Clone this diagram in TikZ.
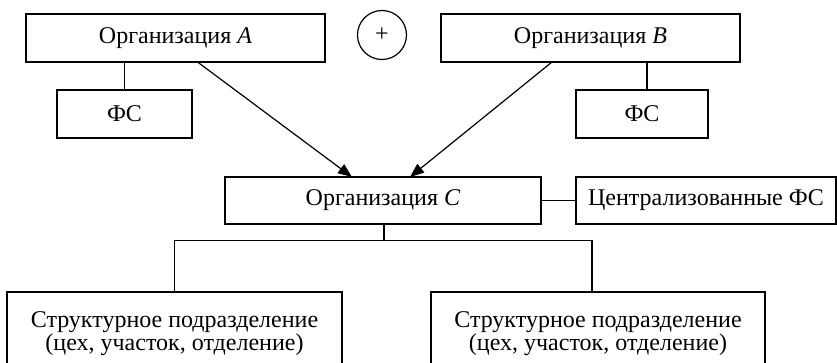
\documentclass[tikz,border=0pt]{standalone}
\usepackage{fontspec}
\setmainfont{Liberation Serif}
\usetikzlibrary{arrows.meta,positioning}

\begin{document}
\begin{tikzpicture}[x=0.5pt, y=-0.5pt,
       font=\fontsize{12}{11.5}\selectfont,
       line width=0.6pt,
    X/.style = {rectangle, draw,% styles of boxes
                minimum height=24pt, inner sep=2pt,
                outer sep=0pt, align=center},
    Y/.style = {circle, draw, minimum size=24.5pt,
                inner sep=0pt, outer sep=0pt},
    Z/.style = {-{Triangle[length=7pt,width=5.5pt]}},
                        ]
\useasboundingbox (0,0) rectangle (837,363);
% top row
\node[X, minimum width=149.5pt] (orgA) at (175.5,38) {Организация \textit{A}};
\node[Y] (plus) at (382,35) {+};
\node[X, minimum width=149.5pt] (orgB) at (590.5,38) {Организация \textit{B}};
\node[X, minimum width=67.5pt] (fsA) at (124.5,114) {ФС};
\node[X, minimum width=66pt] (fsB) at (642,114) {ФС};
% middle row
\node[X, minimum width=158pt, minimum height=23.5pt] (orgC) at (383,200.5) {Организация \textit{C}};
\node[X, minimum width=130pt, minimum height=23.5pt] (cfs) at (706,200.5) {Централизованные ФС};
% bottom row
\foreach \n/\x/\w in {subA/174.5/167.5pt, subB/598/167pt}% <-- divisions
    \node[X, anchor=north, minimum width=\w, minimum height=42pt] (\n) at (\x,292)
         {Структурное подразделение\\(цех, участок, отделение)};
% connectors
\draw (fsA.north) -- (fsA.north |- orgA.south);
\draw ([xshift=2.5pt]fsB.north) -- ([xshift=2.5pt]fsB.north |- orgB.south);
\draw[Z] ([xshift=11pt]orgA.south) -- ([xshift=-15.5pt]orgC.north);
\draw[Z] ([xshift=-19.25pt]orgB.south) -- ([xshift=13.5pt]orgC.north);
\draw (orgC.east) -- (cfs.west);
\draw ([xshift=0.5pt]orgC.south) -- ++(0,16.5) coordinate (split);
\draw (subA.north) |- (split) -| ([xshift=-3pt]subB.north);
\end{tikzpicture}
\end{document}
